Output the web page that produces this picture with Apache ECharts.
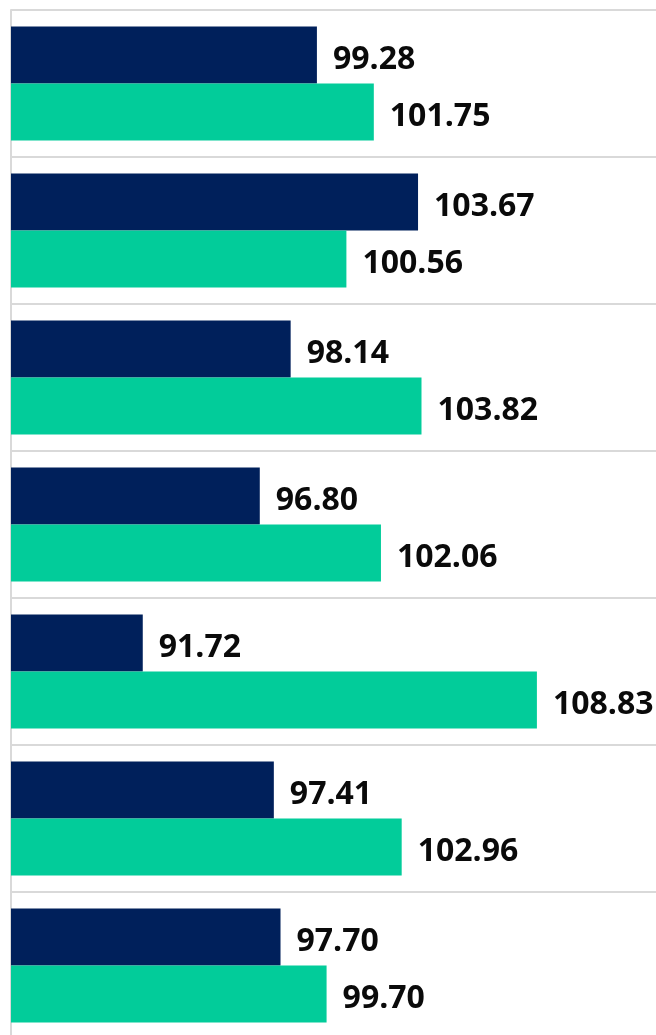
<!DOCTYPE html>
<html>
<head>
<meta charset="utf-8">
<script src="https://cdn.jsdelivr.net/npm/echarts@6/dist/echarts.min.js"></script>
<style>
  html, body { margin: 0; padding: 0; background: #fff; overflow: hidden; }
  #chart { width: 656px; height: 1045px; }
</style>
</head>
<body>
<div id="chart"></div>
<script>
const categories = ['C1', 'C2', 'C3', 'C4', 'C5', 'C6', 'C7'];
const seriesA = [99.28, 103.67, 98.14, 96.80, 91.72, 97.41, 97.70];
const seriesB = [101.75, 100.56, 103.82, 102.06, 108.83, 102.96, 99.70];

const chart = echarts.init(document.getElementById('chart'));

const labelStyle = {
  show: true,
  position: 'right',
  distance: 16,
  offset: [0, 5],
  color: '#0a0a0a',
  fontSize: 32,
  fontWeight: 'bold',
  fontFamily: '"Open Sans", "Noto Sans", sans-serif',
  formatter: (p) => p.value.toFixed(2),
};

chart.setOption({
  animation: false,
  grid: {
    left: 11,
    right: 0,
    top: 10,
    bottom: 6,
    containLabel: false,
  },
  xAxis: {
    type: 'value',
    min: 86,
    max: 114,
    show: false,
  },
  yAxis: {
    type: 'category',
    data: categories,
    inverse: true,
    axisLine: { show: true, lineStyle: { color: '#d9d9d9', width: 2 } },
    axisTick: { show: false },
    axisLabel: { show: false },
    splitLine: { show: true, lineStyle: { color: '#d9d9d9', width: 2 } },
  },
  series: [
    {
      name: 'A',
      type: 'bar',
      data: seriesA,
      barGap: '0%',
      barCategoryGap: '22.4%',
      itemStyle: { color: '#00205b' },
      label: labelStyle,
    },
    {
      name: 'B',
      type: 'bar',
      data: seriesB,
      itemStyle: { color: '#02cc9a' },
      label: labelStyle,
    },
  ],
});
</script>
</body>
</html>
